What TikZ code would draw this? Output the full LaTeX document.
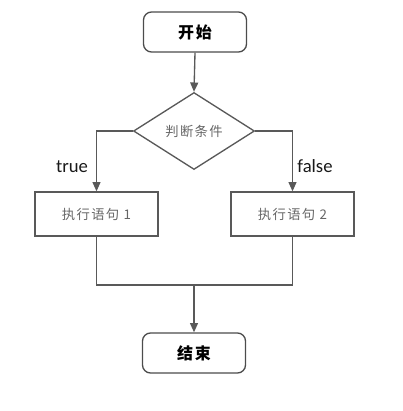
\documentclass[tikz,border=0pt]{standalone}
\usepackage{fontspec}
\setmainfont{Carlito}
\newfontfamily\cjk{Noto Sans CJK SC}
\newfontfamily\cjkls[LetterSpace=10]{Noto Sans CJK SC}
\usetikzlibrary{shapes.geometric,arrows.meta}
\begin{document}
\begin{tikzpicture}[x=0.75pt,y=-0.75pt,
  line/.style={draw=black!65, line width=1pt},
  arr/.style={line, -{Triangle[width=6pt,length=7pt]}},
  term/.style={draw=black!70, line width=1pt, rounded corners=6pt, minimum width=103*0.75pt, minimum height=40*0.75pt, font=\cjkls\bfseries\fontsize{12pt}{14pt}\selectfont},
  proc/.style={draw=black!65, line width=1pt, minimum width=123*0.75pt, minimum height=44*0.75pt, text=black!60, font=\cjkls\fontsize{10pt}{12pt}\selectfont},
  dec/.style={draw=black!65, line width=1pt, diamond, minimum width=121*0.75pt, minimum height=77*0.75pt, inner sep=0pt, aspect=1.57, text=black!60, font=\cjkls\fontsize{10pt}{12pt}\selectfont},
  lab/.style={font=\fontsize{14pt}{16pt}\selectfont, text=black!90, anchor=base}]
\useasboundingbox (0,0) rectangle (403,411);
\node[term] (start) at (195,32) {开始};
\node[dec] (cond) at (194,131) {判断条件};
\node[proc] (p1) at (96.5,214) {执行语句 1};
\node[proc] (p2) at (292.5,214) {执行语句 2};
\node[term] (stop) at (194,353) {结束};
\coordinate (j1) at (96.5,285);
\coordinate (j2) at (292.5,285);
\coordinate (jm) at (194,285);
\draw[arr] (start.south) -- (cond.north);
\draw[arr] (cond.west) -| (p1.north);
\draw[arr] (cond.east) -| (p2.north);
\draw[line] (p1.south) -- (j1) -- (j2) -- (p2.south);
\draw[arr] (jm) -- (stop.north);
\node[lab] (t) at (72,172) {true};
\node[lab] (f) at (315,172) {false};
\end{tikzpicture}
\end{document}
